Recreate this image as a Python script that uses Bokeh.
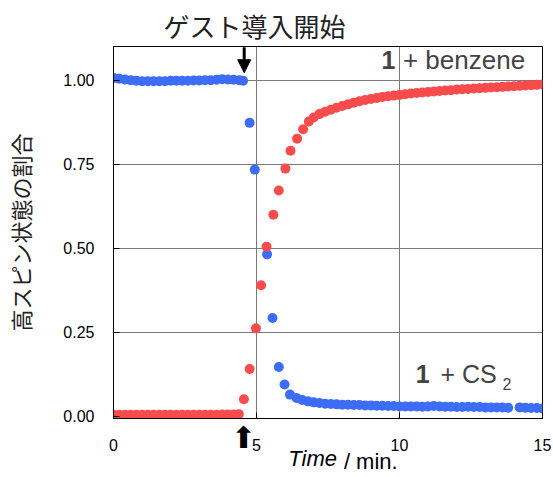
from bokeh.plotting import figure
from bokeh.models import (Label, Arrow, NormalHead, NumeralTickFormatter, FixedTicker, Range1d,
                          LinearAxis)
from bokeh.embed import file_html
from bokeh.resources import INLINE

# ---- data ----
cs2_time = [0.0, 0.2, 0.4, 0.6, 0.8, 1.0, 1.2, 1.4, 1.6, 1.8, 2.0, 2.2, 2.4, 2.6, 2.8,
            3.0, 3.2, 3.4, 3.6, 3.8, 4.0, 4.2, 4.4, 4.53,
            4.76, 4.94, 5.37, 5.56, 5.78, 5.98, 6.17,
            6.4, 6.6, 6.8, 7.0, 7.2, 7.4, 7.6, 7.8, 8.0, 8.2, 8.4, 8.6, 8.8, 9.0,
            9.2, 9.4, 9.6, 9.8, 10.0, 10.2, 10.4, 10.6, 10.8, 11.0, 11.2, 11.4, 11.6,
            11.8, 12.0, 12.2, 12.4, 12.6, 12.8, 13.0, 13.2, 13.4, 13.6, 13.8,
            14.2, 14.4, 14.6, 14.8, 15.0]
cs2_ratio = [1.006, 1.004, 1.002, 1.000, 0.998, 0.997, 0.997, 0.997, 0.997, 0.997, 0.998, 0.998,
             0.998, 0.998, 0.999, 0.999, 1.000, 1.000, 1.001, 1.003, 1.002, 1.001, 1.000, 0.998,
             0.873, 0.734, 0.482, 0.293, 0.147, 0.095, 0.065,
             0.055, 0.049, 0.045, 0.042, 0.040, 0.038, 0.037, 0.036, 0.035, 0.035, 0.034, 0.034,
             0.033, 0.033, 0.032, 0.032, 0.031, 0.031, 0.030, 0.030, 0.030, 0.030, 0.029, 0.030,
             0.031, 0.030, 0.029, 0.029, 0.028, 0.028, 0.029, 0.028, 0.028, 0.027, 0.027, 0.027,
             0.027, 0.026,
             0.027, 0.026, 0.025, 0.025, 0.024]

benz_time = [0.0, 0.2, 0.4, 0.6, 0.8, 1.0, 1.2, 1.4, 1.6, 1.8, 2.0, 2.2, 2.4, 2.6, 2.8,
             3.0, 3.2, 3.4, 3.6, 3.8, 4.0, 4.2, 4.38,
             4.56, 4.76, 4.98, 5.16, 5.35, 5.59, 5.78, 6.01, 6.19, 6.42, 6.63, 6.83,
             7.0, 7.2, 7.4, 7.6, 7.8, 8.0, 8.2, 8.4, 8.6, 8.8, 9.0, 9.2, 9.4, 9.6, 9.8,
             10.0, 10.2, 10.4, 10.6, 10.8, 11.0, 11.2, 11.4, 11.6, 11.8, 12.0, 12.2, 12.4,
             12.6, 12.8, 13.0, 13.2, 13.4, 13.6, 13.8, 14.0, 14.2, 14.4, 14.6, 14.8, 15.0]
benz_ratio = [0.005, 0.005, 0.005, 0.005, 0.005, 0.005, 0.005, 0.005, 0.005, 0.005, 0.005, 0.005,
              0.005, 0.005, 0.005, 0.005, 0.005, 0.005, 0.005, 0.006, 0.006, 0.006, 0.007,
              0.051, 0.141, 0.262, 0.390, 0.505, 0.600, 0.672, 0.737, 0.790, 0.826, 0.854, 0.877,
              0.889, 0.899, 0.906, 0.912, 0.918, 0.923, 0.928, 0.933, 0.937, 0.941, 0.944, 0.947,
              0.950, 0.952, 0.954, 0.956, 0.958, 0.960, 0.962, 0.963, 0.965, 0.966, 0.968, 0.969,
              0.970, 0.972, 0.973, 0.974, 0.975, 0.976, 0.977, 0.978, 0.979, 0.980, 0.981, 0.982,
              0.983, 0.984, 0.985, 0.986, 0.987]

x_ticks = [0, 5, 10, 15]
y_ticks = [0.0, 0.25, 0.5, 0.75, 1.0]
guest_time = 4.57

BLUE = "#3D6DF7"
RED = "#F84C4C"
LAT = "Liberation Sans"
JP = "Noto Sans CJK JP"
NBSP = "\u00a0"

p = figure(width=553, height=477, output_backend="svg", toolbar_location=None,
           x_range=Range1d(0, 15), y_range=Range1d(-0.006, 1.1),
           min_border_left=113, min_border_right=11, min_border_top=46, min_border_bottom=59,
           background_fill_color="white", border_fill_color="white")

p.title.text = "ゲスト導入開始"
p.title.text_font = JP
p.title.text_font_size = "26px"
p.title.text_font_style = "normal"
p.title.text_color = "#222222"
p.title.align = "left"
p.title.vertical_align = "middle"
p.title.offset = 50
p.title.standoff = 4

p.outline_line_color = "black"
p.outline_line_width = 1
p.outline_line_alpha = 1

for ax in (p.xaxis[0], p.yaxis[0]):
    ax.axis_line_color = "black"
    ax.major_tick_in = 6
    ax.major_tick_out = 0
    ax.minor_tick_in = 0
    ax.minor_tick_out = 0
    ax.major_tick_line_color = "black"
    ax.major_label_text_font = LAT
    ax.major_label_text_font_size = "16px"
    ax.major_label_text_color = "black"

p.xaxis.ticker = FixedTicker(ticks=x_ticks)
p.yaxis.ticker = FixedTicker(ticks=y_ticks)
p.yaxis.formatter = NumeralTickFormatter(format="0.00")
p.xaxis.major_label_standoff = 20
p.yaxis.major_label_standoff = 19

p.yaxis.axis_label = "高スピン状態の割合"
p.yaxis.axis_label_text_font = JP
p.yaxis.axis_label_text_font_size = "22px"
p.yaxis.axis_label_text_font_style = "normal"
p.yaxis.axis_label_text_color = "#222222"
p.yaxis.axis_label_standoff = 24

# second bottom axis: up arrow at guest introduction + italic "Time"
arrow_axis = LinearAxis(ticker=FixedTicker(ticks=[4.55]),
                        major_label_overrides={4.55: "⬆"},
                        axis_line_color=None, major_tick_in=0, major_tick_out=0,
                        minor_tick_in=0, minor_tick_out=0,
                        major_label_text_font="DejaVu Sans", major_label_text_font_size="30px",
                        major_label_text_color="black", major_label_standoff=-34,
                        axis_label="Time" + NBSP * 5, axis_label_text_font=LAT,
                        axis_label_text_font_size="22px", axis_label_text_font_style="italic",
                        axis_label_text_color="black", axis_label_standoff=-12)
p.add_layout(arrow_axis, "below")

# third bottom axis: "/ min." on the same line
unit_axis = LinearAxis(ticker=FixedTicker(ticks=[]),
                       axis_line_color=None, major_tick_in=0, major_tick_out=0,
                       minor_tick_in=0, minor_tick_out=0, major_label_standoff=0,
                       axis_label=NBSP * 14 + "/ min.", axis_label_text_font=LAT,
                       axis_label_text_font_size="22px", axis_label_text_font_style="normal",
                       axis_label_text_color="black", axis_label_standoff=-25)
p.add_layout(unit_axis, "below")

p.xgrid.ticker = FixedTicker(ticks=[5, 10])
p.ygrid.ticker = FixedTicker(ticks=[0.25, 0.5, 0.75, 1.0])
for g in (p.xgrid[0], p.ygrid[0]):
    g.grid_line_color = "#7a7a7a"
    g.grid_line_width = 1
    g.grid_line_alpha = 1

p.scatter(cs2_time, cs2_ratio, size=10, fill_color=BLUE, line_color=None)
p.scatter(benz_time, benz_ratio, size=10, fill_color=RED, line_color=None)

# arrow marking guest introduction (inside the frame)
p.add_layout(Arrow(end=NormalHead(size=13, fill_color="black", line_color="black"),
                   x_start=guest_time, y_start=1.098, x_end=guest_time, y_end=1.022,
                   line_width=3, line_color="black"))

# series labels
p.add_layout(Label(x=9.86, y=1.06, text="1", text_font=LAT, text_font_size="25px",
                   text_font_style="bold", text_align="right", text_baseline="alphabetic"))
p.add_layout(Label(x=10.12, y=1.06, text="+ benzene", text_font=LAT, text_font_size="26px",
                   text_align="left", text_baseline="alphabetic"))

p.add_layout(Label(x=11.05, y=0.127, text="1", text_font=LAT, text_font_size="25px",
                   text_font_style="bold", text_align="right", text_baseline="alphabetic"))
p.add_layout(Label(x=11.43, y=0.127, text="+ CS", text_font=LAT, text_font_size="25px",
                   text_align="left", text_baseline="alphabetic"))
p.add_layout(Label(x=13.6, y=0.098, text="2", text_font=LAT, text_font_size="16px",
                   text_align="left", text_baseline="alphabetic"))

open("out.html", "w").write(file_html(p, INLINE))
